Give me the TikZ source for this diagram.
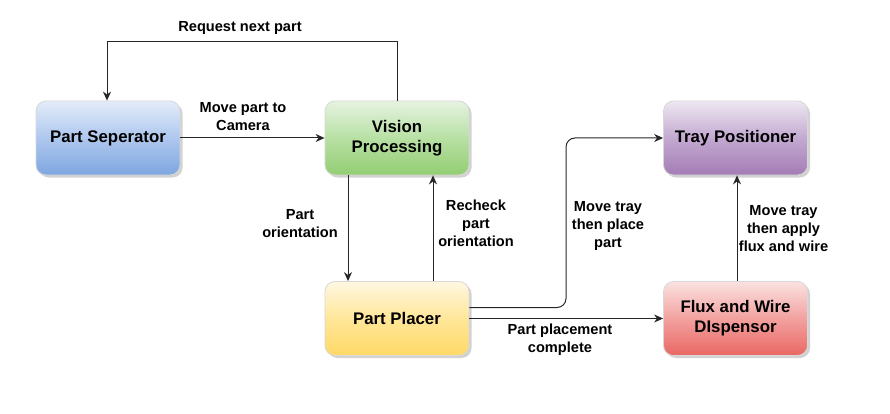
\documentclass[tikz,border=0pt]{standalone}
\usepackage{fontspec}
\setmainfont{Liberation Sans}
\usetikzlibrary{arrows.meta,shadows}
\definecolor{bTop}{HTML}{E3ECFA}\definecolor{bMid}{HTML}{AEC7EE}\definecolor{bBot}{HTML}{7EA6E0}
\definecolor{gTop}{HTML}{E6F3E1}\definecolor{gMid}{HTML}{B8E0A4}\definecolor{gBot}{HTML}{93CE72}
\definecolor{yTop}{HTML}{FFF8E2}\definecolor{yMid}{HTML}{FFE699}\definecolor{yBot}{HTML}{FFD966}
\definecolor{pTop}{HTML}{EEE7F2}\definecolor{pMid}{HTML}{C3A9D0}\definecolor{pBot}{HTML}{A37CB5}
\definecolor{rTop}{HTML}{FBE2E1}\definecolor{rMid}{HTML}{F2A19F}\definecolor{rBot}{HTML}{E96864}
\definecolor{edgeC}{HTML}{D8D8D8}
\tikzset{
  box/.style={draw=edgeC, line width=0.8pt, rounded corners=10pt, minimum width=144pt, minimum height=74pt,
    align=center, font=\fontsize{16.8}{20}\selectfont\bfseries,
    drop shadow={shadow xshift=2.5pt, shadow yshift=-2.5pt, fill=black!35, opacity=0.5}},
  lbl/.style={align=center, font=\fontsize{14.6}{18}\selectfont\bfseries, inner sep=0pt},
  conn/.style={draw=black!85, line width=1pt},
  arr/.style={conn, -{Stealth[length=9pt,width=8pt]}}
}
\begin{document}
\begin{tikzpicture}[x=1pt,y=-1pt]
\useasboundingbox (0,0) rectangle (890,414);
\node[box, top color=bTop, bottom color=bBot, middle color=bMid] (sep) at (108,138) {Part Seperator};
\node[box, top color=gTop, bottom color=gBot, middle color=gMid] (vis) at (397,138) {Vision\\Processing};
\node[box, top color=yTop, bottom color=yBot, middle color=yMid] (plc) at (397,318.5) {Part Placer};
\node[box, top color=pTop, bottom color=pBot, middle color=pMid] (tray) at (735.5,138) {Tray Positioner};
\node[box, top color=rTop, bottom color=rBot, middle color=rMid] (flux) at (735.5,318.5) {Flux and Wire\\DIspensor};

\coordinate (req) at (397,42);
\draw[arr] (vis.north) -- (req) -| ([xshift=-1pt]sep.north);
\draw[arr] (sep.east) -- (vis.west);
\draw[arr] ([xshift=-49pt]vis.south) -- ([xshift=-49pt]plc.north);
\draw[arr] ([xshift=36pt]plc.north) -- ([xshift=36pt]vis.south);
\coordinate (bend) at (566,138);
\draw[arr, rounded corners=9pt] ([yshift=11pt]plc.east) -| (bend) -- (tray.west);
\draw[arr] (plc.east) -- (flux.west);
\draw[arr] ([xshift=1.5pt]flux.north) -- ([xshift=1.5pt]tray.south);

\node[lbl] (l1) at (240,28) {Request next part};
\node[lbl] (l2) at (243,117) {Move part to\\Camera};
\node[lbl] (l3) at (300,224) {Part\\orientation};
\node[lbl] (l4) at (476,223) {Recheck\\part\\orientation};
\node[lbl] (l5) at (608,226) {Move tray\\then place\\part};
\node[lbl] (l6) at (560,340) {Part placement\\complete};
\node[lbl] (l7) at (783.5,229) {Move tray\\then apply\\flux and wire};
\end{tikzpicture}
\end{document}
